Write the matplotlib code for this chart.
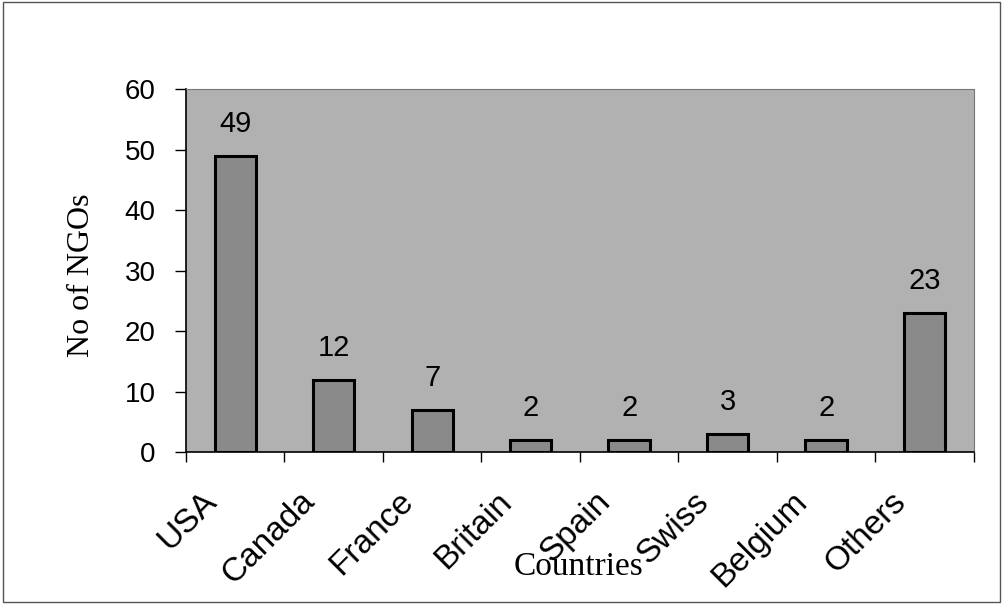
import matplotlib.pyplot as plt
import numpy as np
from matplotlib.patches import Rectangle

countries = ["USA", "Canada", "France", "Britain", "Spain", "Swiss", "Belgium", "Others"]
ngos = [49, 12, 7, 2, 2, 3, 2, 23]
yticks = [0, 10, 20, 30, 40, 50, 60]

fig = plt.figure(figsize=(10.03, 6.04), dpi=100)
ax = fig.add_axes([0.1854, 0.251, 0.7856, 0.601])

x = np.arange(len(countries))
ax.set_facecolor("#b1b1b1")
ax.bar(x, ngos, width=0.42, color="#8a8a8a", edgecolor="black", linewidth=2.2)

# value labels above the bars
for xi, v in zip(x, ngos):
    ax.annotate(str(v), (xi, v), xytext=(0, 13), textcoords="offset points",
                ha="center", va="bottom", fontsize=21, family="Liberation Sans")

ax.set_xlim(-0.5, len(countries) - 0.5)
ax.set_ylim(0, 60)
ax.set_yticks(yticks)
ax.set_yticklabels([str(t) for t in yticks], fontsize=20, family="Liberation Sans")
ax.tick_params(axis="y", length=8, width=1, pad=14)

# ticks on category boundaries, names at category centres
ax.set_xticks(np.arange(len(countries) + 1) - 0.5)
ax.set_xticklabels([])
ax.tick_params(axis="x", length=7, width=1)
for xi, name in zip(x, countries):
    ax.annotate(name, (xi, 0), xycoords=("data", "axes fraction"),
                xytext=(-17, -32), textcoords="offset points",
                rotation=45, rotation_mode="anchor", ha="right", va="center",
                fontsize=24, family="Liberation Sans")

for s in ["top", "right"]:
    ax.spines[s].set_color("#777777")
    ax.spines[s].set_linewidth(0.8)
for s in ["left", "bottom"]:
    ax.spines[s].set_color("black")
    ax.spines[s].set_linewidth(1.2)

fig.text(0.081, 0.545, "No of NGOs", rotation=90, ha="center", va="center",
         fontsize=23, family="Liberation Serif")
fig.text(0.577, 0.062, "Countries", ha="center", va="center",
         fontsize=24, family="Liberation Serif")

fig.patches.append(Rectangle((0.003, 0.004), 0.994, 0.992, transform=fig.transFigure,
                             fill=False, edgecolor="#555555", linewidth=1))

fig.savefig("out.png", dpi=100)
